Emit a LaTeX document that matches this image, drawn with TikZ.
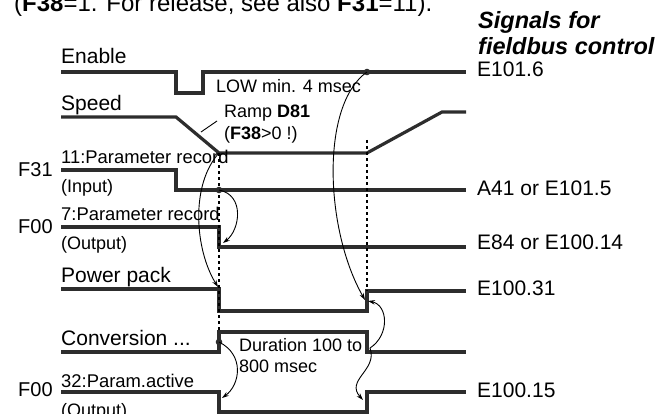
\documentclass[tikz,border=0pt]{standalone}
\usepackage{fontspec}
\setmainfont{Liberation Sans}
\usetikzlibrary{arrows.meta}
\definecolor{sig}{RGB}{45,45,45}
\begin{document}
\begin{tikzpicture}[x=1pt,y=-1pt,
  wave/.style={draw=sig,line width=3.2pt,line join=miter},
  cause/.style={draw=black,line width=0.9pt,-{Stealth[length=7pt,width=4.5pt]}},
  plainthin/.style={draw=black,line width=0.9pt},
  dotline/.style={draw=black,line width=1.6pt,dash pattern=on 3pt off 3pt},
  dotmark/.style={fill=sig},
  huge/.style={anchor=base west,inner sep=0pt,font=\fontsize{24}{28}\selectfont},
  title/.style={anchor=base west,inner sep=0pt,font=\fontsize{23.5}{26}\selectfont\bfseries\itshape},
  lbl/.style={anchor=base west,inner sep=0pt,font=\fontsize{21}{25}\selectfont},
  flab/.style={anchor=base west,inner sep=0pt,font=\fontsize{20}{24}\selectfont},
  sml/.style={anchor=base west,inner sep=0pt,font=\fontsize{18}{21}\selectfont},
  prm/.style={anchor=base west,inner sep=0pt,font=\fontsize{18.4}{21}\selectfont}]
\useasboundingbox (0,0) rectangle (668,414);
\clip (0,0) rectangle (668,414);

% heading (cut off at the top)
\node[huge] (note) at (14,12) {(\textbf{F38}=1. For release, see also \textbf{F31}=11).};
\node[title] (sig1) at (478,29) {Signals for};
\node[title] (sig2) at (478,55) {fieldbus control};

% waveforms
\draw[wave] (61,72) -- (176,72) -- (176,93) -- (203,93) -- (203,72) -- (466,72);
\draw[wave] (61,117) -- (176,117) -- (219,153) -- (367,153) -- (442,112) -- (466,112);
\draw[wave] (61,170) -- (176,170) -- (176,190) -- (466,190);
\draw[wave] (61,227) -- (219,227) -- (219,247) -- (466,247);
\draw[wave] (61,289) -- (219,289) -- (219,311) -- (367,311) -- (367,291) -- (466,291);
\draw[wave] (61,352) -- (219,352) -- (219,332) -- (367,332) -- (367,352) -- (466,352);
\draw[wave] (61,392) -- (219,392) -- (219,412) -- (367,412) -- (367,392) -- (466,392);

% dotted time markers
\draw[dotline] (219,153) -- (219,332);
\draw[dotline] (367,140) -- (367,291);

% signal names
\node[lbl] (enable) at (61,64) {Enable};
\node[lbl] (speed) at (61,111) {Speed};
\node[prm] (p11) at (61,163) {11:Parameter record};
\node[sml] (inp) at (61,192) {(Input)};
\node[flab] (f31) at (18,176) {F31};
\node[prm] (p7) at (61,220) {7:Parameter record};
\node[sml] (out1) at (61,249) {(Output)};
\node[flab] (f00a) at (18,233) {F00};
\node[lbl] (power) at (61,282) {Power pack};
\node[lbl] (conv) at (61,345) {Conversion ...};
\node[prm] (p32) at (61,387) {32:Param.active};
\node[sml] (out2) at (61,416) {(Output)};
\node[flab] (f00b) at (18,396) {F00};

% right labels
\node[lbl] (e1016) at (477,77) {E101.6};
\node[lbl] (a41) at (477,195) {A41 or E101.5};
\node[lbl] (e84) at (477,249) {E84 or E100.14};
\node[lbl] (e10031) at (477,295) {E100.31};
\node[lbl] (e10015) at (477,397) {E100.15};

% inner labels
\node[sml] (low) at (216,93) {LOW min. 4 msec};
\node[sml] (ramp) at (224,118) {Ramp \textbf{D81}};
\node[sml] (ramp2) at (224,140) {(\textbf{F38}>0 !)};
\node[sml] (dur1) at (239,351) {Duration 100 to};
\node[sml] (dur2) at (239,372) {800 msec};

% event points
\coordinate (enOn) at (367,72);
\coordinate (spZero) at (219,153);
\coordinate (prIn) at (219,190);
\coordinate (prOut) at (223,243);
\coordinate (ppOff) at (218,287);
\coordinate (ppOn) at (365,300);
\coordinate (ppOn2) at (368,301);
\coordinate (cvStart) at (219,342);
\coordinate (paOff) at (222,398);
\coordinate (cvEnd) at (370,348);
\coordinate (paOn) at (363,400);
\coordinate (rampA) at (201,132);
\coordinate (rampB) at (217,121);

\fill[dotmark] (enOn) circle (3.3pt);
\fill[dotmark] (prIn) circle (3.3pt);
\fill[dotmark] (cvStart) circle (3.3pt);

% cause-effect arrows
\draw[plainthin] (rampA) -- (rampB);
\draw[cause] (prIn) .. controls (245,195) and (240,230) .. (prOut);
\draw[cause] (enOn) .. controls (320,105) and (325,230) .. (ppOn);
\draw[cause] (spZero) .. controls (190,185) and (195,250) .. (ppOff);
\draw[cause] (cvStart) .. controls (245,355) and (240,385) .. (paOff);
\draw[cause] (cvEnd) .. controls (390,335) and (388,305) .. (ppOn2);
\draw[cause] (cvEnd) .. controls (378,370) and (345,380) .. (paOn);
\end{tikzpicture}
\end{document}
